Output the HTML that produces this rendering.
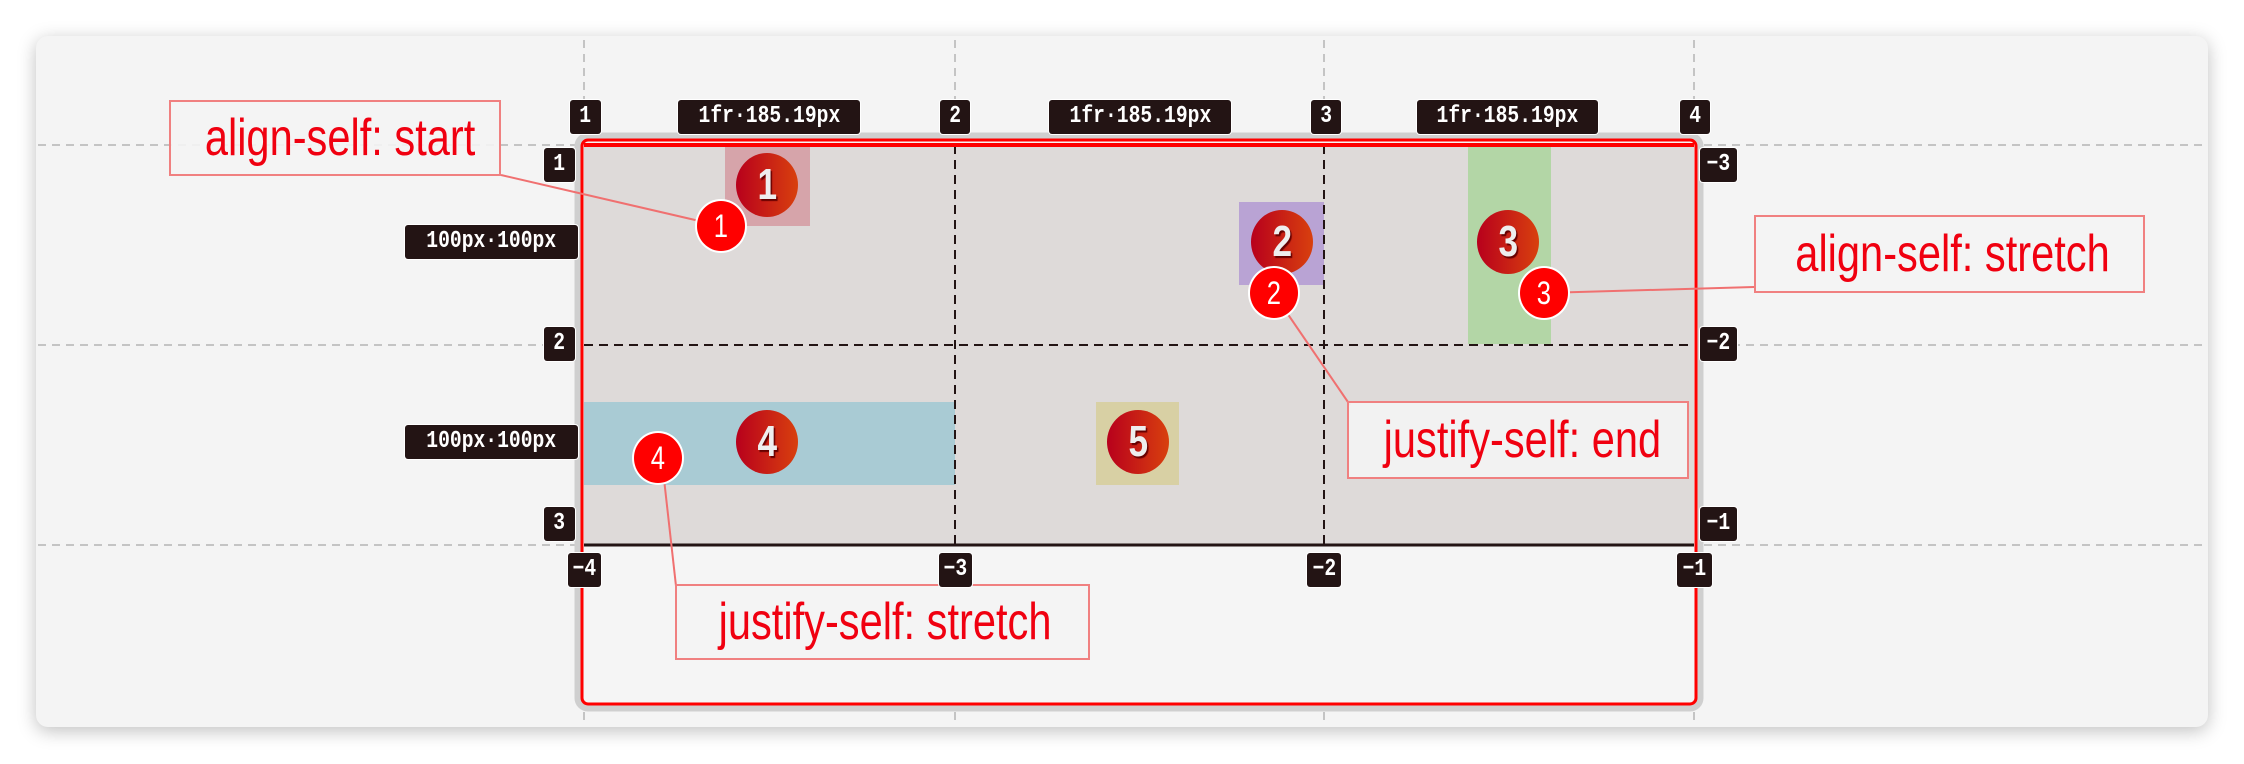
<!DOCTYPE html>
<html><head><meta charset="utf-8"><style>
body{margin:0;width:2244px;height:764px;background:#fff;position:relative;overflow:hidden;font-family:"Liberation Sans",sans-serif}
.abs{position:absolute}
.card{left:36px;top:36px;width:2172px;height:691px;background:#f4f4f4;border-radius:12px;box-shadow:0 4px 18px rgba(0,0,0,.25)}
.tag{position:absolute;background:#231414;color:#fff;font-family:"Liberation Mono",monospace;font-size:24px;font-weight:bold;line-height:34px;height:34px;text-align:center;border-radius:3px;box-shadow:0 0 0 1px #fff;white-space:nowrap;overflow:hidden}
.tag span{display:inline-block;transform:scaleX(.82)}
.item{position:absolute}
.badge{position:absolute;width:62px;height:64px;border-radius:50%;background:linear-gradient(90deg,#b8001c,#d8400e);color:#eee;font-weight:bold;font-size:44px;line-height:64px;text-align:center;text-shadow:2px 2px 1px #600}
.badge span,.mark span{display:inline-block;transform:scaleX(.8)}
.mark{position:absolute;width:48px;height:50px;border-radius:50%;background:#f00;color:#fff;font-size:32px;line-height:50px;text-align:center;box-shadow:0 0 0 2px #fff}
.lbl{position:absolute;border:2px solid #f08080;background:rgba(244,244,244,.9);color:#f00010;font-size:52px;box-sizing:border-box;text-align:center;white-space:nowrap}
.lbl span{display:inline-block;transform:scaleX(.8)}
</style></head><body>
<div class="abs card"></div>
<svg class="abs" style="left:0;top:0" width="2244" height="764">
 <g stroke="#c4c4c4" stroke-width="2" stroke-dasharray="8,6">
  <line x1="584" y1="40" x2="584" y2="725"/><line x1="955" y1="40" x2="955" y2="725"/>
  <line x1="1324" y1="40" x2="1324" y2="725"/><line x1="1694" y1="40" x2="1694" y2="725"/>
  <line x1="38" y1="145" x2="2206" y2="145"/><line x1="38" y1="345" x2="2206" y2="345"/><line x1="38" y1="545" x2="2206" y2="545"/>
 </g>
 <rect x="578" y="136" width="1122" height="572" rx="10" fill="#f4f4f4" stroke="#cfcfcf" stroke-width="7"/>
 <rect x="582" y="140" width="1114" height="564" rx="6" fill="#f5f5f5" stroke="#f00" stroke-width="3"/>
 <rect x="584" y="145" width="1110" height="400" fill="#dedad9"/>
 <line x1="584" y1="545" x2="1694" y2="545" stroke="#231414" stroke-width="3"/>
 <line x1="584" y1="145" x2="1694" y2="145" stroke="#231414" stroke-width="2"/>
</svg>
<div class="item" style="left:725px;top:145px;width:85px;height:81px;background:#d6a4aa"></div>
<div class="item" style="left:1239px;top:202px;width:85px;height:83px;background:#b9a3d4"></div>
<div class="item" style="left:1468px;top:145px;width:83px;height:199px;background:#b3d6a6"></div>
<div class="item" style="left:584px;top:402px;width:371px;height:83px;background:#a9cbd4"></div>
<div class="item" style="left:1096px;top:402px;width:83px;height:83px;background:#d8d0a4"></div>
<svg class="abs" style="left:0;top:0" width="2244" height="764">
 <g stroke="#231414" stroke-width="2" stroke-dasharray="9,6">
  <line x1="955" y1="145" x2="955" y2="545"/><line x1="1324" y1="145" x2="1324" y2="545"/>
  <line x1="584" y1="345" x2="1694" y2="345"/>
 </g>
 <line x1="584" y1="145" x2="1694" y2="145" stroke="#f00" stroke-width="4"/>
 <g stroke="#f07070" stroke-width="2">
  <line x1="501" y1="175" x2="721" y2="226"/>
  <line x1="1754" y1="287" x2="1544" y2="293"/>
  <line x1="1285" y1="310" x2="1350" y2="405"/>
  <line x1="663" y1="470" x2="676" y2="586"/>
 </g>
</svg>
<div class="badge" style="left:736px;top:153px"><span>1</span></div>
<div class="badge" style="left:1251px;top:210px"><span>2</span></div>
<div class="badge" style="left:1477px;top:210px"><span>3</span></div>
<div class="badge" style="left:736px;top:410px"><span>4</span></div>
<div class="badge" style="left:1107px;top:410px"><span>5</span></div>
<div class="mark" style="left:697px;top:201px"><span>1</span></div>
<div class="mark" style="left:1250px;top:268px"><span>2</span></div>
<div class="mark" style="left:1520px;top:268px"><span>3</span></div>
<div class="mark" style="left:634px;top:433px"><span>4</span></div>
<div class="lbl" style="left:169px;top:100px;width:332px;height:76px;line-height:72px"><span>align-self: start</span></div>
<div class="lbl" style="left:1754px;top:215px;width:391px;height:78px;line-height:74px"><span>align-self: stretch</span></div>
<div class="lbl" style="left:1347px;top:401px;width:342px;height:78px;line-height:74px"><span>justify-self: end</span></div>
<div class="lbl" style="left:675px;top:584px;width:415px;height:76px;line-height:72px"><span>justify-self: stretch</span></div>
<div class="tag" style="left:570px;top:100px;width:31px"><span>1</span></div>
<div class="tag" style="left:678px;top:100px;width:182px"><span>1fr·185.19px</span></div>
<div class="tag" style="left:940px;top:100px;width:30px"><span>2</span></div>
<div class="tag" style="left:1049px;top:100px;width:182px"><span>1fr·185.19px</span></div>
<div class="tag" style="left:1311px;top:100px;width:30px"><span>3</span></div>
<div class="tag" style="left:1417px;top:100px;width:181px"><span>1fr·185.19px</span></div>
<div class="tag" style="left:1680px;top:100px;width:30px"><span>4</span></div>
<div class="tag" style="left:544px;top:148px;width:31px"><span>1</span></div>
<div class="tag" style="left:405px;top:225px;width:173px"><span>100px·100px</span></div>
<div class="tag" style="left:544px;top:327px;width:31px"><span>2</span></div>
<div class="tag" style="left:405px;top:425px;width:173px"><span>100px·100px</span></div>
<div class="tag" style="left:544px;top:507px;width:31px"><span>3</span></div>
<div class="tag" style="left:1700px;top:148px;width:37px"><span>−3</span></div>
<div class="tag" style="left:1700px;top:327px;width:37px"><span>−2</span></div>
<div class="tag" style="left:1700px;top:507px;width:37px"><span>−1</span></div>
<div class="tag" style="left:568px;top:553px;width:33px"><span>−4</span></div>
<div class="tag" style="left:939px;top:553px;width:33px"><span>−3</span></div>
<div class="tag" style="left:1307px;top:553px;width:34px"><span>−2</span></div>
<div class="tag" style="left:1677px;top:553px;width:35px"><span>−1</span></div>
</body></html>
